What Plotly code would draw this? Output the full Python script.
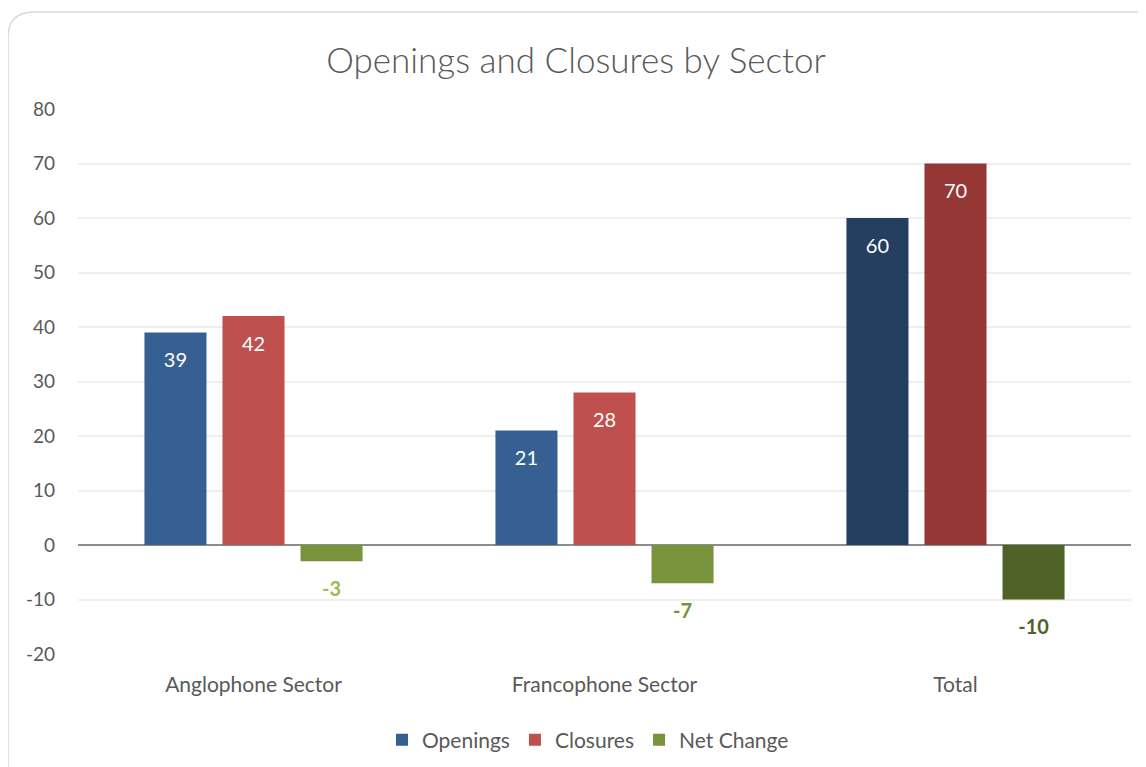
import plotly.graph_objects as go

categories = ["Anglophone Sector", "Francophone Sector", "Total"]
openings = [39, 21, 60]
closures = [42, 28, 70]
net_change = [-3, -7, -10]
y_ticks = [-20, -10, 0, 10, 20, 30, 40, 50, 60, 70, 80]
y_tick_labels = [str(v) for v in y_ticks]

FONT = "Lato"
W, H = 1146, 767
OFF = 8  # page offset of the figure inside the browser
SX0, SX1, SY0, SY1 = 78, 1131, 109, 654
L = SX0 - OFF
T = SY0 - OFF
R = W - (SX1 - OFF)
B = H - (SY1 - OFF)

def px_to_paper_x(px):
    return (px - SX0) / (SX1 - SX0)

def px_to_paper_y(py):
    return (SY1 - py) / (SY1 - SY0)

series = [
    ("Openings", openings, ["#366092", "#366092", "#243f60"], ["white"] * 3, False),
    ("Closures", closures, ["#c0504d", "#c0504d", "#953735"], ["white"] * 3, False),
    ("Net Change", net_change, ["#77933c", "#77933c", "#4f6228"],
     ["#9bbb59", "#77933c", "#4f6228"], True),
]

fig = go.Figure()
for name, vals, colors, tcolors, bold in series:
    fig.add_trace(go.Bar(
        name=name, x=categories, y=vals, offsetgroup=name, alignmentgroup="g",
        marker=dict(color=colors, line=dict(width=0)),
    ))
for name, vals, colors, tcolors, bold in series:
    fig.add_trace(go.Scatter(
        x=categories, y=vals, mode="markers+text", offsetgroup=name, alignmentgroup="g",
        marker=dict(size=30, opacity=0),
        text=[("<b>%d</b>" if bold else "%d") % v for v in vals],
        textposition="bottom center",
        textfont=dict(color=tcolors, size=20, family=FONT),
        showlegend=False, hoverinfo="skip", cliponaxis=False,
    ))

# rounded chart border
x0, x1 = px_to_paper_x(8), px_to_paper_x(1170)
y0, y1 = px_to_paper_y(790), px_to_paper_y(12)
rx = 26 / (SX1 - SX0)
ry = 26 / (SY1 - SY0)
path = (f"M {x0+rx},{y1} L {x1},{y1} L {x1},{y0} L {x0},{y0} "
        f"L {x0},{y1-ry} Q {x0},{y1} {x0+rx},{y1} Z")
fig.add_shape(type="path", path=path, xref="paper", yref="paper",
              line=dict(color="#d9d9d9", width=1.5), layer="below")

fig.update_layout(
    width=W, height=H,
    margin=dict(l=L, r=R, t=T, b=B, autoexpand=False),
    paper_bgcolor="white", plot_bgcolor="white",
    title=dict(text="Openings and Closures by Sector", x=px_to_paper_x(576), xref="paper",
               xanchor="center", y=1 - (61 - OFF) / H, yanchor="middle",
               font=dict(family=FONT, size=35, color="#595959", weight=300)),
    barmode="group", bargap=0.333, bargroupgap=0.205,
    scattermode="group", scattergap=0.333,
    font=dict(family=FONT, color="#595959", size=19),
    showlegend=True,
    legend=dict(orientation="h", x=px_to_paper_x(588), xanchor="center",
                y=px_to_paper_y(740), yanchor="middle",
                font=dict(size=21, color="#595959", family=FONT),
                traceorder="normal"),
    xaxis=dict(showgrid=False, showline=False, ticks="", ticklabelstandoff=16,
               tickfont=dict(size=21, color="#595959", family=FONT)),
    yaxis=dict(range=[-20, 80], tickvals=y_ticks, ticktext=y_tick_labels,
               showgrid=True, gridcolor="#efefef", gridwidth=1.5, zeroline=True,
               zerolinecolor="#8c8c8c", zerolinewidth=2,
               ticks="", ticklabelstandoff=22,
               tickfont=dict(size=19, color="#595959", family=FONT)),
)

fig.write_html("out.html")
